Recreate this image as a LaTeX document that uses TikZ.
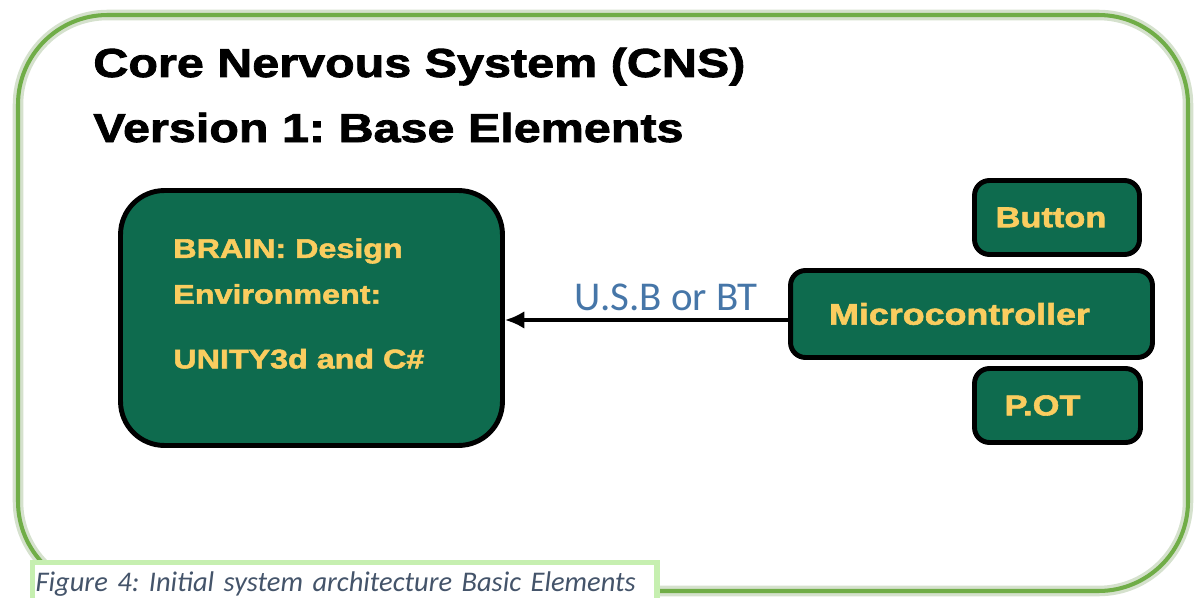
\documentclass[tikz,border=0pt]{standalone}
\usepackage{fontspec}
\setmainfont{Liberation Sans}
\newfontfamily\heavyfont[FakeStretch=1.2,FakeBold=2]{Liberation Sans}
\newfontfamily\calibrifont{Carlito}
\usetikzlibrary{arrows.meta}
\frenchspacing

\definecolor{framegreen}{RGB}{112,173,71}
\definecolor{frameglow}{RGB}{150,180,130}
\definecolor{boxgreen}{RGB}{14,107,78}
\definecolor{boxyellow}{RGB}{250,205,95}
\definecolor{usbblue}{RGB}{70,118,168}
\definecolor{capgray}{RGB}{68,84,106}
\definecolor{capglow}{RGB}{198,239,176}

\begin{document}
\begin{tikzpicture}[x=0.02cm, y=-0.02cm,
   greenbox/.style={draw=black, line width=2.8pt, fill=boxgreen, text=boxyellow,
      rounded corners=8.5pt, inner sep=0pt, font=\heavyfont\bfseries\fontsize{16.3}{19}\selectfont},
   titletext/.style={anchor=base west, inner sep=0pt, font=\heavyfont\bfseries\fontsize{23}{27}\selectfont},
   usbarrow/.style={-{Latex[length=11pt,width=10pt]}, line width=2pt}]

   \useasboundingbox (0,0) rectangle (1200,598);

	\draw[frameglow, opacity=0.4, line width=6pt, rounded corners=51pt] (18,15) rectangle (1188,591);
	\draw[framegreen, line width=2.3pt, rounded corners=51pt] (18,15) rectangle (1188,591);

	\node[titletext] (title1) at (93,77) {Core Nervous System (CNS)};
	\node[titletext] (title2) at (93,142) {Version 1: Base Elements};

	\node[greenbox, rounded corners=25pt, minimum width=7.64cm, minimum height=5.1cm] (brain) at (311.5,318) {};
	\node[anchor=north west, inner sep=0pt, align=left, text=boxyellow,
	      font=\heavyfont\bfseries\fontsize{15.3}{26.1}\selectfont] (braintxt) at (173,238)
	      {BRAIN: Design\\Environment:\\[10.7pt]UNITY3d and C\#};

	\node[greenbox, minimum width=3.3cm, minimum height=1.48cm] (button) at (1057,217.5) {Button\hspace*{0.24cm}};
	\node[greenbox, minimum width=7.24cm, minimum height=1.74cm, font=\heavyfont\bfseries\fontsize{17}{20}\selectfont] (micro) at (971.5,314) {Microcontroller\hspace*{0.48cm}};
	\node[greenbox, minimum width=3.32cm, minimum height=1.48cm] (pot) at (1057.5,405.5) {P.OT\hspace*{0.6cm}};

	\draw[usbarrow] ([yshift=-3.4pt]micro.west) -- ([yshift=-3.4pt]micro.west -| brain.east)
	   node[pos=0.43, above=4pt, inner sep=0pt, text=usbblue, font=\calibrifont\fontsize{23.3}{28}\selectfont] (usb) {U.S.B or BT};

	% caption
	\node[anchor=base west, fill=white, draw=capglow, line width=3pt, inner xsep=2pt, inner ysep=5pt,
	      text width=12.36cm, align=left, text=capgray, font=\calibrifont\itshape\fontsize{16.2}{20}\selectfont] (caption) at (29.5,591)
	      {Figure 4: Initial system architecture Basic Elements};

\end{tikzpicture}
\end{document}
